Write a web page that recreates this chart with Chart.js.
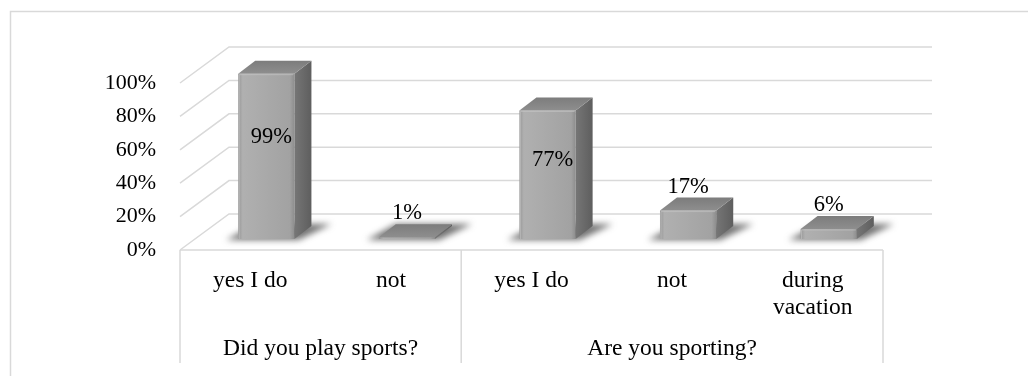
<!DOCTYPE html>
<html><head><meta charset="utf-8">
<script src="https://cdn.jsdelivr.net/npm/chart.js@4.4.0/dist/chart.umd.min.js"></script>
<style>html,body{margin:0;padding:0;background:#fff;overflow:hidden}#wrap{width:1028px;height:376px;position:relative}</style>
</head><body><div id="wrap"><canvas id="c" width="1028" height="376"></canvas></div>
<script>
const categories = ['yes I do', 'not', 'yes I do', 'not', ['during', 'vacation']];
const groupLabels = ['Did you play sports?', 'Are you sporting?'];
const groupSizes = [2, 3];
const values = [99, 1, 77, 17, 6];
const yTickValues = [0, 20, 40, 60, 80, 100];

const FONT = 'Liberation Serif, Times New Roman, serif';
const GRID = '#d9d9d9';
const WALL = {x: 49, y: -36};     // depth offset of back wall
const PLANE = {x: 16, y: -11};    // offset of bar plane
const BDEPTH = {x: 17, y: -13};   // bar depth

function frontGradient(c, x0, x1) {
  const g = c.createLinearGradient(x0, 0, x1, 0);
  g.addColorStop(0, '#979797');
  g.addColorStop(0.08, '#b0b0b0');
  g.addColorStop(0.5, '#a9a9a9');
  g.addColorStop(0.92, '#a2a2a2');
  g.addColorStop(1, '#8d8d8d');
  return g;
}

const threeD = {
  id: 'threeD',
  beforeDraw(chart) {
    const c = chart.ctx, xs = chart.scales.x, ys = chart.scales.y;
    const left = chart.chartArea.left, right = chart.chartArea.right, bottom = chart.chartArea.bottom;
    c.save();
    c.strokeStyle = GRID; c.lineWidth = 1.5;
    // outer chart border
    c.beginPath(); c.moveTo(10.5, 380); c.lineTo(10.5, 11.5); c.lineTo(1030, 11.5); c.stroke();
    // wall grid lines
    yTickValues.forEach(v => {
      const y = ys.getPixelForValue(v);
      c.beginPath();
      c.moveTo(left, y);
      c.lineTo(left + WALL.x, y + WALL.y);
      c.lineTo(right + WALL.x, y + WALL.y);
      c.stroke();
    });
    // axis box
    c.beginPath(); c.moveTo(left, bottom); c.lineTo(right, bottom); c.stroke();
    let idx = 0;
    const bounds = [left];
    groupSizes.forEach((n, gi) => {
      idx += n;
      if (idx < categories.length) {
        bounds.push((xs.getPixelForValue(idx - 1) + xs.getPixelForValue(idx)) / 2);
      }
    });
    bounds.push(right);
    bounds.forEach(bx => { c.beginPath(); c.moveTo(bx, bottom); c.lineTo(bx, 363); c.stroke(); });
    // group labels
    c.fillStyle = '#000'; c.font = '23.5px ' + FONT; c.textAlign = 'center'; c.textBaseline = 'middle';
    groupLabels.forEach((t, i) => c.fillText(t, (bounds[i] + bounds[i + 1]) / 2, 349));
    c.restore();
  },
  beforeDatasetsDraw(chart) {
    const c = chart.ctx;
    const meta = chart.getDatasetMeta(0);
    c.save();
    c.translate(PLANE.x, PLANE.y);
    // soft shadows on the floor
    c.filter = 'blur(3px)';
    c.fillStyle = 'rgba(70,70,70,0.75)';
    meta.data.forEach(el => {
      const x0 = el.x - el.width / 2, x1 = el.x + el.width / 2, b = el.base;
      c.beginPath();
      c.moveTo(x0 - 12, b + 1);
      c.lineTo(x1 + 4, b + 1);
      c.lineTo(x1 + BDEPTH.x + 20, b + BDEPTH.y - 2);
      c.lineTo(x0 + BDEPTH.x, b + BDEPTH.y - 2);
      c.closePath(); c.fill();
    });
    c.filter = 'none';
    // keep translation for the bars themselves
  },
  afterDatasetsDraw(chart) {
    const c = chart.ctx, ys = chart.scales.y;
    const meta = chart.getDatasetMeta(0);
    meta.data.forEach((el, i) => {
      const x0 = el.x - el.width / 2, x1 = el.x + el.width / 2, t = el.y, b = el.base;
      // side face
      const gs = c.createLinearGradient(x1, 0, x1 + BDEPTH.x, 0);
      gs.addColorStop(0, '#767676'); gs.addColorStop(1, '#5e5e5e');
      c.fillStyle = gs;
      c.beginPath();
      c.moveTo(x1, t); c.lineTo(x1 + BDEPTH.x, t + BDEPTH.y);
      c.lineTo(x1 + BDEPTH.x, b + BDEPTH.y); c.lineTo(x1, b);
      c.closePath(); c.fill();
      // top face
      const gt = c.createLinearGradient(0, t + BDEPTH.y, 0, t);
      gt.addColorStop(0, '#7c7c7c'); gt.addColorStop(1, '#8e8e8e');
      c.fillStyle = gt;
      c.beginPath();
      c.moveTo(x0, t); c.lineTo(x0 + BDEPTH.x, t + BDEPTH.y);
      c.lineTo(x1 + BDEPTH.x, t + BDEPTH.y); c.lineTo(x1, t);
      c.closePath(); c.fill();
      // subtle bevel highlight
      if (b - t > 4) {
        c.strokeStyle = 'rgba(200,200,200,0.6)'; c.lineWidth = 1;
        c.beginPath(); c.moveTo(x0 + 1, b); c.lineTo(x0 + 1, t + 1); c.lineTo(x1 - 1, t + 1); c.stroke();
      }
    });
    // data labels
    c.fillStyle = '#000'; c.font = '22.5px ' + FONT; c.textAlign = 'center'; c.textBaseline = 'middle';
    meta.data.forEach((el, i) => {
      const v = values[i];
      if (v >= 30) {
        c.fillText(v + '%', el.x + 5, ys.getPixelForValue(v * 0.615));
      } else {
        c.fillText(v + '%', el.x, el.y - 24);
      }
    });
    c.restore();
  }
};

new Chart(document.getElementById('c'), {
  type: 'bar',
  data: {
    labels: categories,
    datasets: [{
      data: values,
      clip: false,
      borderWidth: 0,
      categoryPercentage: 1,
      barPercentage: 0.4,
      backgroundColor: (ctx) => {
        const chart = ctx.chart, xs = chart.scales && chart.scales.x;
        if (ctx.type !== 'data' || !xs || !chart.chartArea) return '#a6a6a6';
        const cx = xs.getPixelForValue(ctx.dataIndex);
        const w = (xs.width / categories.length) * 0.4;
        return frontGradient(chart.ctx, cx - w / 2, cx + w / 2);
      }
    }]
  },
  options: {
    responsive: false,
    animation: false,
    devicePixelRatio: 1,
    layout: {padding: {top: 83, right: 145, bottom: 0, left: 0}},
    plugins: {legend: {display: false}, tooltip: {enabled: false}},
    scales: {
      x: {
        type: 'category',
        grid: {display: false, drawTicks: false},
        border: {display: false},
        ticks: {color: '#000', font: {family: FONT, size: 23.5, lineHeight: 1.13}, padding: 18, maxRotation: 0, autoSkip: false},
        afterFit: s => { s.height = 126; }
      },
      y: {
        min: 0, max: 100,
        afterBuildTicks: s => { s.ticks = yTickValues.map(v => ({value: v})); },
        grid: {display: false, drawTicks: false},
        border: {display: false},
        ticks: {color: '#000', font: {family: FONT, size: 22}, padding: 24, callback: v => v + '%'},
        afterFit: s => { s.width = 180; }
      }
    }
  },
  plugins: [threeD]
});
</script>
</body></html>
